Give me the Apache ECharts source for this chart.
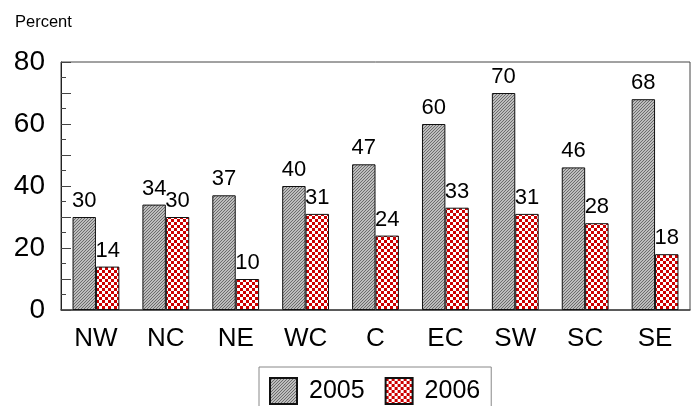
<!DOCTYPE html>
<html><head><meta charset="utf-8">
<script src="https://cdn.jsdelivr.net/npm/echarts@6/dist/echarts.min.js"></script>
<style>html,body{margin:0;padding:0;background:#fff}#c{width:698px;height:406px}</style>
</head><body><div id="c"></div>
<script>
var categories = ['NW','NC','NE','WC','C','EC','SW','SC','SE'];
var values2005 = [30,34,37,40,47,60,70,46,68];
var values2006 = [14,30,10,31,24,33,31,28,18];
var seriesNames = ['2005','2006'];

function hatch(){
  var c=document.createElement('canvas');c.width=3;c.height=3;
  var g=c.getContext('2d');
  g.fillStyle='#bdbdbd';g.fillRect(0,0,3,3);
  g.fillStyle='#6c6c6c';
  for(var i=0;i<3;i++){g.fillRect((2-i+3)%3,i,1,1);}
  return c;
}
function checker(){
  var c=document.createElement('canvas');c.width=6;c.height=6;
  var g=c.getContext('2d');
  g.fillStyle='#ffffff';g.fillRect(0,0,6,6);
  g.fillStyle='#cc0000';g.fillRect(0,0,3,3);g.fillRect(3,3,3,3);
  return c;
}
var F='Liberation Sans, Arial, sans-serif';
var chart=echarts.init(document.getElementById('c'),null,{renderer:'canvas'});
chart.setOption({
  animation:false,
  textStyle:{fontFamily:F},
  graphic:[{type:'text',left:15,top:14,style:{text:'Percent',font:'16.5px '+F,fill:'#000'}}],
  grid:{left:61,right:8,top:62,bottom:96,show:true,borderColor:'#444',borderWidth:1},
  legend:{left:259,top:367,itemWidth:27,itemHeight:26,itemGap:20,icon:'rect',
    padding:[10,11,10,10],borderColor:'#888',borderWidth:1,
    textStyle:{fontSize:25,color:'#000',fontFamily:F,padding:[0,0,0,7]},
    data:seriesNames},
  xAxis:{type:'category',data:categories,
    axisLine:{lineStyle:{color:'#444',width:1.5}},
    axisTick:{show:false},
    axisLabel:{fontSize:26,color:'#000',margin:16,fontFamily:F}},
  yAxis:{type:'value',min:0,max:80,interval:10,
    axisLine:{show:true,lineStyle:{color:'#222'}},
    axisTick:{show:true,inside:true,length:10,lineStyle:{color:'#444'}},
    minorTick:{show:true,splitNumber:2,length:5,lineStyle:{color:'#444'}},
    splitLine:{show:false},
    axisLabel:{fontSize:28,color:'#000',margin:16,fontFamily:F,
      formatter:function(v){return v%20===0?String(v):'';}}},
  series:[
    {name:seriesNames[0],type:'bar',data:values2005,barGap:'0%',barCategoryGap:'33%',
      itemStyle:{color:{image:hatch(),repeat:'repeat'},borderColor:'#111',borderWidth:1},
      label:{show:true,position:'top',fontSize:22,color:'#000',distance:5,fontFamily:F}},
    {name:seriesNames[1],type:'bar',data:values2006,
      itemStyle:{color:{image:checker(),repeat:'repeat'},borderColor:'#111',borderWidth:1},
      label:{show:true,position:'top',fontSize:22,color:'#000',distance:5,fontFamily:F}}
  ]
});
</script></body></html>
